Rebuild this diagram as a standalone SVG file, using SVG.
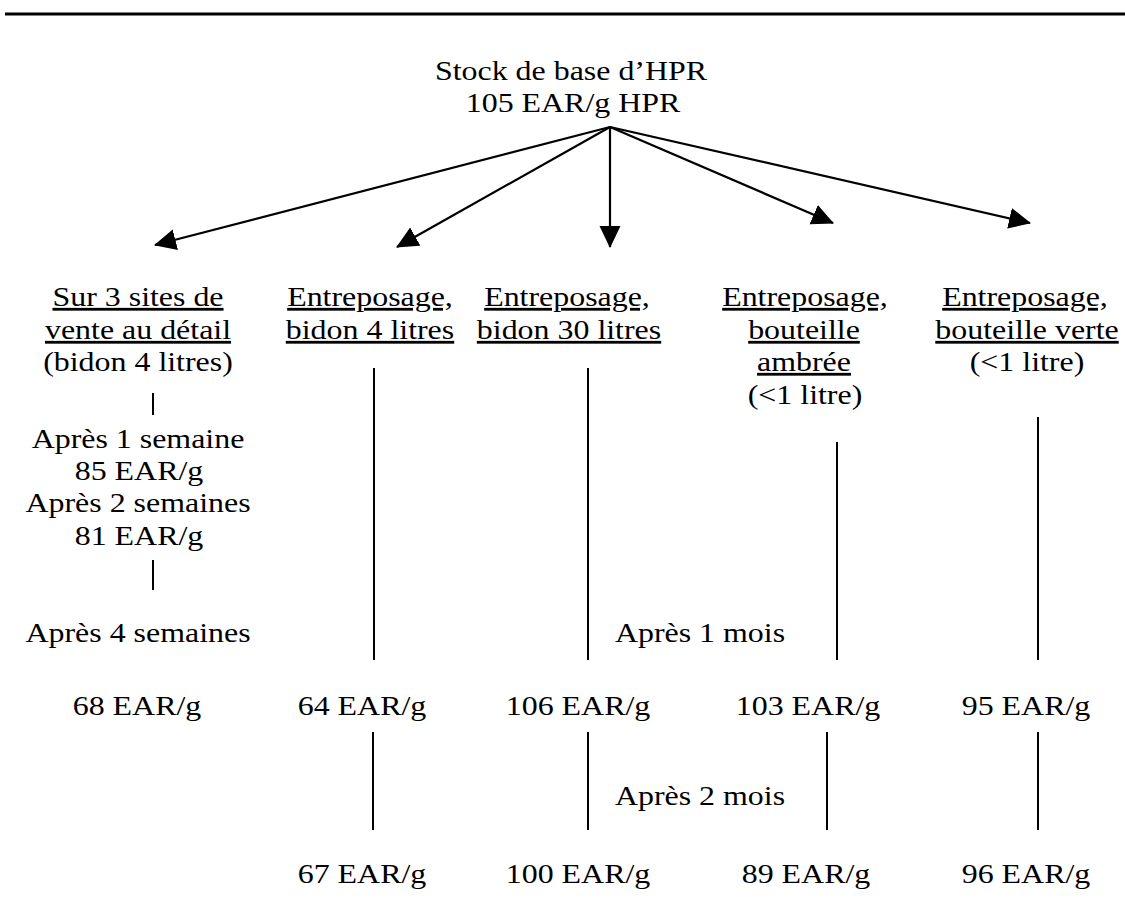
<svg xmlns="http://www.w3.org/2000/svg" width="1125" height="900" viewBox="0 0 1125 900">
<defs>
<marker id="ah" markerWidth="24" markerHeight="24" refX="21" refY="10.5" orient="auto" markerUnits="userSpaceOnUse">
<path d="M0,0 L22,10.5 L0,21 Z" fill="#000"/>
</marker>
<style>
text{font-family:"Liberation Serif","Times New Roman",serif;font-size:28px;fill:#000;text-anchor:middle}
.u{text-decoration:underline}
.ln{stroke:#000;stroke-width:2;fill:none}
.ar{stroke:#000;stroke-width:2.2;fill:none;marker-end:url(#ah)}
</style>
</defs>
<rect width="1125" height="900" fill="#fff"/>
<line x1="5" y1="14" x2="1125" y2="14" stroke="#000" stroke-width="3"/>

<g id="root">
<text transform="translate(571 80) scale(1.14 1)">Stock de base d’HPR</text>
<text transform="translate(573 112) scale(1.14 1)">105 EAR/g HPR</text>
</g>

<g id="connectors">
<line class="ar" x1="610" y1="127" x2="155" y2="245"/>
<line class="ar" x1="610" y1="127" x2="397" y2="247"/>
<line class="ar" x1="610" y1="127" x2="610" y2="247"/>
<line class="ar" x1="610" y1="127" x2="833" y2="223"/>
<line class="ar" x1="610" y1="127" x2="1030" y2="223"/>
<line class="ln" x1="153" y1="393" x2="153" y2="415"/>
<line class="ln" x1="153" y1="560" x2="153" y2="590"/>
<line class="ln" x1="374" y1="368" x2="374" y2="660"/>
<line class="ln" x1="373" y1="732" x2="373" y2="830"/>
<line class="ln" x1="588" y1="368" x2="588" y2="660"/>
<line class="ln" x1="588" y1="732" x2="588" y2="830"/>
<line class="ln" x1="837" y1="442" x2="837" y2="660"/>
<line class="ln" x1="827" y1="732" x2="827" y2="830"/>
<line class="ln" x1="1038" y1="417" x2="1038" y2="660"/>
<line class="ln" x1="1038" y1="732" x2="1038" y2="830"/>
</g>

<g id="col1">
<text class="u" transform="translate(138 306) scale(1.14 1)">Sur 3 sites de</text>
<text class="u" transform="translate(138 339) scale(1.14 1)">vente au détail</text>
<text transform="translate(138 371) scale(1.14 1)">(bidon 4 litres)</text>
<text transform="translate(138 448) scale(1.14 1)">Après 1 semaine</text>
<text transform="translate(139 480) scale(1.14 1)">85 EAR/g</text>
<text transform="translate(138 512) scale(1.14 1)">Après 2 semaines</text>
<text transform="translate(139 545) scale(1.14 1)">81 EAR/g</text>
<text transform="translate(138 642) scale(1.14 1)">Après 4 semaines</text>
<text transform="translate(137 715) scale(1.14 1)">68 EAR/g</text>
</g>

<g id="col2">
<text class="u" transform="translate(370 306) scale(1.14 1)">Entreposage,</text>
<text class="u" transform="translate(370 339) scale(1.14 1)">bidon 4 litres</text>
<text transform="translate(362 715) scale(1.14 1)">64 EAR/g</text>
<text transform="translate(362 883) scale(1.14 1)">67 EAR/g</text>
</g>

<g id="col3">
<text class="u" transform="translate(567 306) scale(1.14 1)">Entreposage,</text>
<text class="u" transform="translate(569 339) scale(1.14 1)">bidon 30 litres</text>
<text transform="translate(578 715) scale(1.14 1)">106 EAR/g</text>
<text transform="translate(578 883) scale(1.14 1)">100 EAR/g</text>
</g>

<g id="col4">
<text class="u" transform="translate(805 306) scale(1.14 1)">Entreposage,</text>
<text class="u" transform="translate(804 339) scale(1.14 1)">bouteille</text>
<text class="u" transform="translate(804 371) scale(1.14 1)">ambrée</text>
<text transform="translate(805 404) scale(1.14 1)">(&lt;1 litre)</text>
<text transform="translate(808 715) scale(1.14 1)">103 EAR/g</text>
<text transform="translate(806 883) scale(1.14 1)">89 EAR/g</text>
</g>

<g id="col5">
<text class="u" transform="translate(1025 306) scale(1.14 1)">Entreposage,</text>
<text class="u" transform="translate(1027 339) scale(1.14 1)">bouteille verte</text>
<text transform="translate(1027 371) scale(1.14 1)">(&lt;1 litre)</text>
<text transform="translate(1026 715) scale(1.14 1)">95 EAR/g</text>
<text transform="translate(1026 883) scale(1.14 1)">96 EAR/g</text>
</g>

<g id="labels">
<text transform="translate(700 642) scale(1.14 1)">Après 1 mois</text>
<text transform="translate(700 805) scale(1.14 1)">Après 2 mois</text>
</g>
</svg>
